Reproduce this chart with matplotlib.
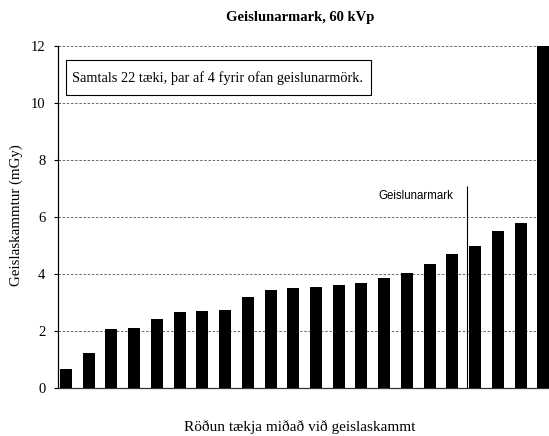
import matplotlib
matplotlib.use("Agg")
import matplotlib.pyplot as plt
from matplotlib.patches import Rectangle
import numpy as np

# Data (mGy), sorted by dose
devices = list(range(1, 23))
doses = [0.66, 1.23, 2.08, 2.12, 2.41, 2.66, 2.69, 2.73, 3.18, 3.43, 3.51,
         3.54, 3.60, 3.68, 3.85, 4.05, 4.35, 4.70, 4.99, 5.50, 5.80, 13.0]
yticks = [0, 2, 4, 6, 8, 10, 12]
limit_pos = 17.65     # position of the "Geislunarmark" line (between bar 18 and 19)
limit_top = 7.1

title = "Geislunarmark, 60 kVp"
ylabel = "Geislaskammtur (mGy)"
xlabel = "Röðun tækja miðað við geislaskammt"
note = "Samtals 22 tæki, þar af 4 fyrir ofan geislunarmörk."
limit_label = "Geislunarmark"

serif = ["Liberation Serif", "DejaVu Serif"]

fig = plt.figure(figsize=(5.49, 4.36), dpi=100)
ax = fig.add_axes([58/549, (436-388)/436, 1 - 58/549, (388-46)/436])

x = np.arange(len(devices))
ax.bar(x, doses, width=0.53, color="black", zorder=3)

ax.set_xlim(-0.35, 21.25)
ax.set_ylim(0, 12)
ax.set_yticks(yticks)
ax.set_yticklabels([str(t) for t in yticks], fontfamily=serif, fontsize=10.5)
ax.set_xticks([])
ax.tick_params(axis="y", length=3, width=0.8, direction="out", pad=6)

for t in yticks[1:]:
    ax.axhline(t, color="#555555", lw=0.6, ls=(0, (3, 2)), zorder=1, clip_on=False)

for s in ["top", "right"]:
    ax.spines[s].set_visible(False)
ax.spines["left"].set_linewidth(0.9)
ax.spines["bottom"].set_linewidth(0.9)
ax.spines["bottom"].set_color("#333333")

ax.vlines(limit_pos, 0, limit_top, color="black", lw=0.8, zorder=4)
ax.text(limit_pos - 0.6, limit_top - 0.38, limit_label, ha="right", va="center",
        fontfamily=["Liberation Sans", "DejaVu Sans"], fontsize=8.3)

# note box
ax.add_patch(Rectangle((0.0, 10.28), 13.42, 1.23, facecolor="white",
                       edgecolor="black", lw=0.8, zorder=5))
ax.text(0.27, 10.88, note, ha="left", va="center", fontfamily=serif,
        fontsize=10.4, zorder=6)

fig.text(300/549, 1 - 18/436, title, ha="center", va="center",
         fontfamily=serif, fontsize=10.5, fontweight="bold")
fig.text(300/549, 1 - 427/436, xlabel, ha="center", va="center",
         fontfamily=serif, fontsize=11)
fig.text(16/549, 1 - 215/436, ylabel, ha="center", va="center", rotation=90,
         fontfamily=serif, fontsize=10.8)

fig.savefig("out.png", dpi=100)
